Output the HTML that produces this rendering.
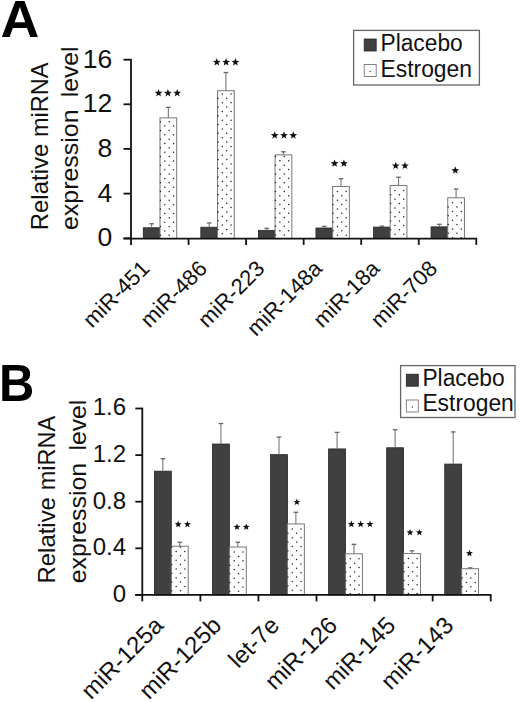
<!DOCTYPE html>
<html><head><meta charset="utf-8"><style>
html,body{margin:0;padding:0;background:#fff;overflow:hidden;}
svg{display:block;}
text{font-family:"Liberation Sans", sans-serif;}
</style></head><body>
<svg width="520" height="702" viewBox="0 0 520 702">
<rect width="520" height="702" fill="#fff"/>
<rect x="143.30" y="227.77" width="16.70" height="10.83" fill="#404040" stroke="#222" stroke-width="0.8"/><line x1="151.65" y1="227.77" x2="151.65" y2="223.76" stroke="#777" stroke-width="1.1"/><line x1="149.35" y1="223.76" x2="153.95" y2="223.76" stroke="#666" stroke-width="1.3"/><rect x="160.00" y="117.85" width="16.70" height="120.75" fill="#fff" stroke="#777" stroke-width="1"/><circle cx="160.43" cy="121.65" r="0.75" fill="#222"/><circle cx="169.17" cy="121.65" r="0.75" fill="#222"/><circle cx="164.80" cy="126.02" r="0.75" fill="#222"/><circle cx="173.54" cy="126.02" r="0.75" fill="#222"/><circle cx="160.43" cy="130.39" r="0.75" fill="#222"/><circle cx="169.17" cy="130.39" r="0.75" fill="#222"/><circle cx="164.80" cy="134.76" r="0.75" fill="#222"/><circle cx="173.54" cy="134.76" r="0.75" fill="#222"/><circle cx="160.43" cy="139.13" r="0.75" fill="#222"/><circle cx="169.17" cy="139.13" r="0.75" fill="#222"/><circle cx="164.80" cy="143.50" r="0.75" fill="#222"/><circle cx="173.54" cy="143.50" r="0.75" fill="#222"/><circle cx="160.43" cy="147.87" r="0.75" fill="#222"/><circle cx="169.17" cy="147.87" r="0.75" fill="#222"/><circle cx="164.80" cy="152.24" r="0.75" fill="#222"/><circle cx="173.54" cy="152.24" r="0.75" fill="#222"/><circle cx="160.43" cy="156.61" r="0.75" fill="#222"/><circle cx="169.17" cy="156.61" r="0.75" fill="#222"/><circle cx="164.80" cy="160.98" r="0.75" fill="#222"/><circle cx="173.54" cy="160.98" r="0.75" fill="#222"/><circle cx="160.43" cy="165.35" r="0.75" fill="#222"/><circle cx="169.17" cy="165.35" r="0.75" fill="#222"/><circle cx="164.80" cy="169.72" r="0.75" fill="#222"/><circle cx="173.54" cy="169.72" r="0.75" fill="#222"/><circle cx="160.43" cy="174.09" r="0.75" fill="#222"/><circle cx="169.17" cy="174.09" r="0.75" fill="#222"/><circle cx="164.80" cy="178.46" r="0.75" fill="#222"/><circle cx="173.54" cy="178.46" r="0.75" fill="#222"/><circle cx="160.43" cy="182.83" r="0.75" fill="#222"/><circle cx="169.17" cy="182.83" r="0.75" fill="#222"/><circle cx="164.80" cy="187.20" r="0.75" fill="#222"/><circle cx="173.54" cy="187.20" r="0.75" fill="#222"/><circle cx="160.43" cy="191.57" r="0.75" fill="#222"/><circle cx="169.17" cy="191.57" r="0.75" fill="#222"/><circle cx="164.80" cy="195.94" r="0.75" fill="#222"/><circle cx="173.54" cy="195.94" r="0.75" fill="#222"/><circle cx="160.43" cy="200.31" r="0.75" fill="#222"/><circle cx="169.17" cy="200.31" r="0.75" fill="#222"/><circle cx="164.80" cy="204.68" r="0.75" fill="#222"/><circle cx="173.54" cy="204.68" r="0.75" fill="#222"/><circle cx="160.43" cy="209.05" r="0.75" fill="#222"/><circle cx="169.17" cy="209.05" r="0.75" fill="#222"/><circle cx="164.80" cy="213.42" r="0.75" fill="#222"/><circle cx="173.54" cy="213.42" r="0.75" fill="#222"/><circle cx="160.43" cy="217.79" r="0.75" fill="#222"/><circle cx="169.17" cy="217.79" r="0.75" fill="#222"/><circle cx="164.80" cy="222.16" r="0.75" fill="#222"/><circle cx="173.54" cy="222.16" r="0.75" fill="#222"/><circle cx="160.43" cy="226.53" r="0.75" fill="#222"/><circle cx="169.17" cy="226.53" r="0.75" fill="#222"/><circle cx="164.80" cy="230.90" r="0.75" fill="#222"/><circle cx="173.54" cy="230.90" r="0.75" fill="#222"/><circle cx="160.43" cy="235.27" r="0.75" fill="#222"/><circle cx="169.17" cy="235.27" r="0.75" fill="#222"/><line x1="168.35" y1="117.85" x2="168.35" y2="107.36" stroke="#777" stroke-width="1.1"/><line x1="166.05" y1="107.36" x2="170.65" y2="107.36" stroke="#666" stroke-width="1.3"/><rect x="200.85" y="227.22" width="16.70" height="11.38" fill="#404040" stroke="#222" stroke-width="0.8"/><line x1="209.20" y1="227.22" x2="209.20" y2="222.98" stroke="#777" stroke-width="1.1"/><line x1="206.90" y1="222.98" x2="211.50" y2="222.98" stroke="#666" stroke-width="1.3"/><rect x="217.55" y="90.73" width="16.70" height="147.87" fill="#fff" stroke="#777" stroke-width="1"/><circle cx="222.35" cy="93.98" r="0.75" fill="#222"/><circle cx="231.09" cy="93.98" r="0.75" fill="#222"/><circle cx="217.98" cy="98.35" r="0.75" fill="#222"/><circle cx="226.72" cy="98.35" r="0.75" fill="#222"/><circle cx="222.35" cy="102.72" r="0.75" fill="#222"/><circle cx="231.09" cy="102.72" r="0.75" fill="#222"/><circle cx="217.98" cy="107.09" r="0.75" fill="#222"/><circle cx="226.72" cy="107.09" r="0.75" fill="#222"/><circle cx="222.35" cy="111.46" r="0.75" fill="#222"/><circle cx="231.09" cy="111.46" r="0.75" fill="#222"/><circle cx="217.98" cy="115.83" r="0.75" fill="#222"/><circle cx="226.72" cy="115.83" r="0.75" fill="#222"/><circle cx="222.35" cy="120.20" r="0.75" fill="#222"/><circle cx="231.09" cy="120.20" r="0.75" fill="#222"/><circle cx="217.98" cy="124.57" r="0.75" fill="#222"/><circle cx="226.72" cy="124.57" r="0.75" fill="#222"/><circle cx="222.35" cy="128.94" r="0.75" fill="#222"/><circle cx="231.09" cy="128.94" r="0.75" fill="#222"/><circle cx="217.98" cy="133.31" r="0.75" fill="#222"/><circle cx="226.72" cy="133.31" r="0.75" fill="#222"/><circle cx="222.35" cy="137.68" r="0.75" fill="#222"/><circle cx="231.09" cy="137.68" r="0.75" fill="#222"/><circle cx="217.98" cy="142.05" r="0.75" fill="#222"/><circle cx="226.72" cy="142.05" r="0.75" fill="#222"/><circle cx="222.35" cy="146.42" r="0.75" fill="#222"/><circle cx="231.09" cy="146.42" r="0.75" fill="#222"/><circle cx="217.98" cy="150.79" r="0.75" fill="#222"/><circle cx="226.72" cy="150.79" r="0.75" fill="#222"/><circle cx="222.35" cy="155.16" r="0.75" fill="#222"/><circle cx="231.09" cy="155.16" r="0.75" fill="#222"/><circle cx="217.98" cy="159.53" r="0.75" fill="#222"/><circle cx="226.72" cy="159.53" r="0.75" fill="#222"/><circle cx="222.35" cy="163.90" r="0.75" fill="#222"/><circle cx="231.09" cy="163.90" r="0.75" fill="#222"/><circle cx="217.98" cy="168.27" r="0.75" fill="#222"/><circle cx="226.72" cy="168.27" r="0.75" fill="#222"/><circle cx="222.35" cy="172.64" r="0.75" fill="#222"/><circle cx="231.09" cy="172.64" r="0.75" fill="#222"/><circle cx="217.98" cy="177.01" r="0.75" fill="#222"/><circle cx="226.72" cy="177.01" r="0.75" fill="#222"/><circle cx="222.35" cy="181.38" r="0.75" fill="#222"/><circle cx="231.09" cy="181.38" r="0.75" fill="#222"/><circle cx="217.98" cy="185.75" r="0.75" fill="#222"/><circle cx="226.72" cy="185.75" r="0.75" fill="#222"/><circle cx="222.35" cy="190.12" r="0.75" fill="#222"/><circle cx="231.09" cy="190.12" r="0.75" fill="#222"/><circle cx="217.98" cy="194.49" r="0.75" fill="#222"/><circle cx="226.72" cy="194.49" r="0.75" fill="#222"/><circle cx="222.35" cy="198.86" r="0.75" fill="#222"/><circle cx="231.09" cy="198.86" r="0.75" fill="#222"/><circle cx="217.98" cy="203.23" r="0.75" fill="#222"/><circle cx="226.72" cy="203.23" r="0.75" fill="#222"/><circle cx="222.35" cy="207.60" r="0.75" fill="#222"/><circle cx="231.09" cy="207.60" r="0.75" fill="#222"/><circle cx="217.98" cy="211.97" r="0.75" fill="#222"/><circle cx="226.72" cy="211.97" r="0.75" fill="#222"/><circle cx="222.35" cy="216.34" r="0.75" fill="#222"/><circle cx="231.09" cy="216.34" r="0.75" fill="#222"/><circle cx="217.98" cy="220.71" r="0.75" fill="#222"/><circle cx="226.72" cy="220.71" r="0.75" fill="#222"/><circle cx="222.35" cy="225.08" r="0.75" fill="#222"/><circle cx="231.09" cy="225.08" r="0.75" fill="#222"/><circle cx="217.98" cy="229.45" r="0.75" fill="#222"/><circle cx="226.72" cy="229.45" r="0.75" fill="#222"/><circle cx="222.35" cy="233.82" r="0.75" fill="#222"/><circle cx="231.09" cy="233.82" r="0.75" fill="#222"/><line x1="225.90" y1="90.73" x2="225.90" y2="72.54" stroke="#777" stroke-width="1.1"/><line x1="223.60" y1="72.54" x2="228.20" y2="72.54" stroke="#666" stroke-width="1.3"/><rect x="258.40" y="230.34" width="16.70" height="8.26" fill="#404040" stroke="#222" stroke-width="0.8"/><line x1="266.75" y1="230.34" x2="266.75" y2="228.33" stroke="#777" stroke-width="1.1"/><line x1="264.45" y1="228.33" x2="269.05" y2="228.33" stroke="#666" stroke-width="1.3"/><rect x="275.10" y="154.90" width="16.70" height="83.70" fill="#fff" stroke="#777" stroke-width="1"/><circle cx="275.53" cy="156.43" r="0.75" fill="#222"/><circle cx="284.27" cy="156.43" r="0.75" fill="#222"/><circle cx="279.90" cy="160.80" r="0.75" fill="#222"/><circle cx="288.64" cy="160.80" r="0.75" fill="#222"/><circle cx="275.53" cy="165.17" r="0.75" fill="#222"/><circle cx="284.27" cy="165.17" r="0.75" fill="#222"/><circle cx="279.90" cy="169.54" r="0.75" fill="#222"/><circle cx="288.64" cy="169.54" r="0.75" fill="#222"/><circle cx="275.53" cy="173.91" r="0.75" fill="#222"/><circle cx="284.27" cy="173.91" r="0.75" fill="#222"/><circle cx="279.90" cy="178.28" r="0.75" fill="#222"/><circle cx="288.64" cy="178.28" r="0.75" fill="#222"/><circle cx="275.53" cy="182.65" r="0.75" fill="#222"/><circle cx="284.27" cy="182.65" r="0.75" fill="#222"/><circle cx="279.90" cy="187.02" r="0.75" fill="#222"/><circle cx="288.64" cy="187.02" r="0.75" fill="#222"/><circle cx="275.53" cy="191.39" r="0.75" fill="#222"/><circle cx="284.27" cy="191.39" r="0.75" fill="#222"/><circle cx="279.90" cy="195.76" r="0.75" fill="#222"/><circle cx="288.64" cy="195.76" r="0.75" fill="#222"/><circle cx="275.53" cy="200.13" r="0.75" fill="#222"/><circle cx="284.27" cy="200.13" r="0.75" fill="#222"/><circle cx="279.90" cy="204.50" r="0.75" fill="#222"/><circle cx="288.64" cy="204.50" r="0.75" fill="#222"/><circle cx="275.53" cy="208.87" r="0.75" fill="#222"/><circle cx="284.27" cy="208.87" r="0.75" fill="#222"/><circle cx="279.90" cy="213.24" r="0.75" fill="#222"/><circle cx="288.64" cy="213.24" r="0.75" fill="#222"/><circle cx="275.53" cy="217.61" r="0.75" fill="#222"/><circle cx="284.27" cy="217.61" r="0.75" fill="#222"/><circle cx="279.90" cy="221.98" r="0.75" fill="#222"/><circle cx="288.64" cy="221.98" r="0.75" fill="#222"/><circle cx="275.53" cy="226.35" r="0.75" fill="#222"/><circle cx="284.27" cy="226.35" r="0.75" fill="#222"/><circle cx="279.90" cy="230.72" r="0.75" fill="#222"/><circle cx="288.64" cy="230.72" r="0.75" fill="#222"/><circle cx="275.53" cy="235.09" r="0.75" fill="#222"/><circle cx="284.27" cy="235.09" r="0.75" fill="#222"/><line x1="283.45" y1="154.90" x2="283.45" y2="151.78" stroke="#777" stroke-width="1.1"/><line x1="281.15" y1="151.78" x2="285.75" y2="151.78" stroke="#666" stroke-width="1.3"/><rect x="315.95" y="228.00" width="16.70" height="10.60" fill="#404040" stroke="#222" stroke-width="0.8"/><line x1="324.30" y1="228.00" x2="324.30" y2="226.32" stroke="#777" stroke-width="1.1"/><line x1="322.00" y1="226.32" x2="326.60" y2="226.32" stroke="#666" stroke-width="1.3"/><rect x="332.65" y="186.48" width="16.70" height="52.12" fill="#fff" stroke="#777" stroke-width="1"/><circle cx="337.45" cy="191.48" r="0.75" fill="#222"/><circle cx="346.19" cy="191.48" r="0.75" fill="#222"/><circle cx="333.08" cy="195.85" r="0.75" fill="#222"/><circle cx="341.82" cy="195.85" r="0.75" fill="#222"/><circle cx="337.45" cy="200.22" r="0.75" fill="#222"/><circle cx="346.19" cy="200.22" r="0.75" fill="#222"/><circle cx="333.08" cy="204.59" r="0.75" fill="#222"/><circle cx="341.82" cy="204.59" r="0.75" fill="#222"/><circle cx="337.45" cy="208.96" r="0.75" fill="#222"/><circle cx="346.19" cy="208.96" r="0.75" fill="#222"/><circle cx="333.08" cy="213.33" r="0.75" fill="#222"/><circle cx="341.82" cy="213.33" r="0.75" fill="#222"/><circle cx="337.45" cy="217.70" r="0.75" fill="#222"/><circle cx="346.19" cy="217.70" r="0.75" fill="#222"/><circle cx="333.08" cy="222.07" r="0.75" fill="#222"/><circle cx="341.82" cy="222.07" r="0.75" fill="#222"/><circle cx="337.45" cy="226.44" r="0.75" fill="#222"/><circle cx="346.19" cy="226.44" r="0.75" fill="#222"/><circle cx="333.08" cy="230.81" r="0.75" fill="#222"/><circle cx="341.82" cy="230.81" r="0.75" fill="#222"/><circle cx="337.45" cy="235.18" r="0.75" fill="#222"/><circle cx="346.19" cy="235.18" r="0.75" fill="#222"/><line x1="341.00" y1="186.48" x2="341.00" y2="178.78" stroke="#777" stroke-width="1.1"/><line x1="338.70" y1="178.78" x2="343.30" y2="178.78" stroke="#666" stroke-width="1.3"/><rect x="373.50" y="227.11" width="16.70" height="11.49" fill="#404040" stroke="#222" stroke-width="0.8"/><line x1="381.85" y1="227.11" x2="381.85" y2="226.10" stroke="#777" stroke-width="1.1"/><line x1="379.55" y1="226.10" x2="384.15" y2="226.10" stroke="#666" stroke-width="1.3"/><rect x="390.20" y="185.48" width="16.70" height="53.12" fill="#fff" stroke="#777" stroke-width="1"/><circle cx="395.00" cy="190.48" r="0.75" fill="#222"/><circle cx="403.74" cy="190.48" r="0.75" fill="#222"/><circle cx="390.63" cy="194.85" r="0.75" fill="#222"/><circle cx="399.37" cy="194.85" r="0.75" fill="#222"/><circle cx="395.00" cy="199.22" r="0.75" fill="#222"/><circle cx="403.74" cy="199.22" r="0.75" fill="#222"/><circle cx="390.63" cy="203.59" r="0.75" fill="#222"/><circle cx="399.37" cy="203.59" r="0.75" fill="#222"/><circle cx="395.00" cy="207.96" r="0.75" fill="#222"/><circle cx="403.74" cy="207.96" r="0.75" fill="#222"/><circle cx="390.63" cy="212.33" r="0.75" fill="#222"/><circle cx="399.37" cy="212.33" r="0.75" fill="#222"/><circle cx="395.00" cy="216.70" r="0.75" fill="#222"/><circle cx="403.74" cy="216.70" r="0.75" fill="#222"/><circle cx="390.63" cy="221.07" r="0.75" fill="#222"/><circle cx="399.37" cy="221.07" r="0.75" fill="#222"/><circle cx="395.00" cy="225.44" r="0.75" fill="#222"/><circle cx="403.74" cy="225.44" r="0.75" fill="#222"/><circle cx="390.63" cy="229.81" r="0.75" fill="#222"/><circle cx="399.37" cy="229.81" r="0.75" fill="#222"/><circle cx="395.00" cy="234.18" r="0.75" fill="#222"/><circle cx="403.74" cy="234.18" r="0.75" fill="#222"/><line x1="398.55" y1="185.48" x2="398.55" y2="177.22" stroke="#777" stroke-width="1.1"/><line x1="396.25" y1="177.22" x2="400.85" y2="177.22" stroke="#666" stroke-width="1.3"/><rect x="431.05" y="226.88" width="16.70" height="11.72" fill="#404040" stroke="#222" stroke-width="0.8"/><line x1="439.40" y1="226.88" x2="439.40" y2="224.32" stroke="#777" stroke-width="1.1"/><line x1="437.10" y1="224.32" x2="441.70" y2="224.32" stroke="#666" stroke-width="1.3"/><rect x="447.75" y="197.75" width="16.70" height="40.85" fill="#fff" stroke="#777" stroke-width="1"/><circle cx="452.55" cy="202.75" r="0.75" fill="#222"/><circle cx="461.29" cy="202.75" r="0.75" fill="#222"/><circle cx="448.18" cy="207.12" r="0.75" fill="#222"/><circle cx="456.92" cy="207.12" r="0.75" fill="#222"/><circle cx="452.55" cy="211.49" r="0.75" fill="#222"/><circle cx="461.29" cy="211.49" r="0.75" fill="#222"/><circle cx="448.18" cy="215.86" r="0.75" fill="#222"/><circle cx="456.92" cy="215.86" r="0.75" fill="#222"/><circle cx="452.55" cy="220.23" r="0.75" fill="#222"/><circle cx="461.29" cy="220.23" r="0.75" fill="#222"/><circle cx="448.18" cy="224.60" r="0.75" fill="#222"/><circle cx="456.92" cy="224.60" r="0.75" fill="#222"/><circle cx="452.55" cy="228.97" r="0.75" fill="#222"/><circle cx="461.29" cy="228.97" r="0.75" fill="#222"/><circle cx="448.18" cy="233.34" r="0.75" fill="#222"/><circle cx="456.92" cy="233.34" r="0.75" fill="#222"/><circle cx="452.55" cy="237.71" r="0.75" fill="#222"/><circle cx="461.29" cy="237.71" r="0.75" fill="#222"/><line x1="456.10" y1="197.75" x2="456.10" y2="189.05" stroke="#777" stroke-width="1.1"/><line x1="453.80" y1="189.05" x2="458.40" y2="189.05" stroke="#666" stroke-width="1.3"/><line x1="131.00" y1="58.90" x2="131.00" y2="244.90" stroke="#111" stroke-width="1.8"/><line x1="123.50" y1="238.30" x2="131.00" y2="238.30" stroke="#111" stroke-width="1.8"/><text x="112.30" y="246.20" font-size="26.5" text-anchor="end" fill="#111">0</text><line x1="123.50" y1="193.60" x2="131.00" y2="193.60" stroke="#111" stroke-width="1.8"/><text x="112.30" y="201.50" font-size="26.5" text-anchor="end" fill="#111">4</text><line x1="123.50" y1="148.90" x2="131.00" y2="148.90" stroke="#111" stroke-width="1.8"/><text x="112.30" y="156.80" font-size="26.5" text-anchor="end" fill="#111">8</text><line x1="123.50" y1="104.30" x2="131.00" y2="104.30" stroke="#111" stroke-width="1.8"/><text x="112.30" y="112.20" font-size="26.5" text-anchor="end" fill="#111">12</text><line x1="123.50" y1="59.70" x2="131.00" y2="59.70" stroke="#111" stroke-width="1.8"/><text x="112.30" y="67.60" font-size="26.5" text-anchor="end" fill="#111">16</text><line x1="123.50" y1="238.60" x2="477.10" y2="238.60" stroke="#111" stroke-width="1.8"/><line x1="188.55" y1="238.60" x2="188.55" y2="244.90" stroke="#111" stroke-width="1.8"/><line x1="246.10" y1="238.60" x2="246.10" y2="244.90" stroke="#111" stroke-width="1.8"/><line x1="303.65" y1="238.60" x2="303.65" y2="244.90" stroke="#111" stroke-width="1.8"/><line x1="361.20" y1="238.60" x2="361.20" y2="244.90" stroke="#111" stroke-width="1.8"/><line x1="418.75" y1="238.60" x2="418.75" y2="244.90" stroke="#111" stroke-width="1.8"/><line x1="476.30" y1="238.60" x2="476.30" y2="244.90" stroke="#111" stroke-width="1.8"/><polygon points="158.60,89.00 159.61,91.71 162.50,91.83 160.24,93.63 161.01,96.42 158.60,94.82 156.19,96.42 156.96,93.63 154.70,91.83 157.59,91.71" fill="#111"/><polygon points="167.90,89.00 168.91,91.71 171.80,91.83 169.54,93.63 170.31,96.42 167.90,94.82 165.49,96.42 166.26,93.63 164.00,91.83 166.89,91.71" fill="#111"/><polygon points="177.20,89.00 178.21,91.71 181.10,91.83 178.84,93.63 179.61,96.42 177.20,94.82 174.79,96.42 175.56,93.63 173.30,91.83 176.19,91.71" fill="#111"/><polygon points="216.80,58.10 217.81,60.81 220.70,60.93 218.44,62.73 219.21,65.52 216.80,63.92 214.39,65.52 215.16,62.73 212.90,60.93 215.79,60.81" fill="#111"/><polygon points="226.10,58.10 227.11,60.81 230.00,60.93 227.74,62.73 228.51,65.52 226.10,63.92 223.69,65.52 224.46,62.73 222.20,60.93 225.09,60.81" fill="#111"/><polygon points="235.40,58.10 236.41,60.81 239.30,60.93 237.04,62.73 237.81,65.52 235.40,63.92 232.99,65.52 233.76,62.73 231.50,60.93 234.39,60.81" fill="#111"/><polygon points="274.70,131.30 275.71,134.01 278.60,134.13 276.34,135.93 277.11,138.72 274.70,137.12 272.29,138.72 273.06,135.93 270.80,134.13 273.69,134.01" fill="#111"/><polygon points="284.00,131.30 285.01,134.01 287.90,134.13 285.64,135.93 286.41,138.72 284.00,137.12 281.59,138.72 282.36,135.93 280.10,134.13 282.99,134.01" fill="#111"/><polygon points="293.30,131.30 294.31,134.01 297.20,134.13 294.94,135.93 295.71,138.72 293.30,137.12 290.89,138.72 291.66,135.93 289.40,134.13 292.29,134.01" fill="#111"/><polygon points="334.60,159.40 335.61,162.11 338.50,162.23 336.24,164.03 337.01,166.82 334.60,165.22 332.19,166.82 332.96,164.03 330.70,162.23 333.59,162.11" fill="#111"/><polygon points="343.90,159.40 344.91,162.11 347.80,162.23 345.54,164.03 346.31,166.82 343.90,165.22 341.49,166.82 342.26,164.03 340.00,162.23 342.89,162.11" fill="#111"/><polygon points="395.70,161.70 396.71,164.41 399.60,164.53 397.34,166.33 398.11,169.12 395.70,167.52 393.29,169.12 394.06,166.33 391.80,164.53 394.69,164.41" fill="#111"/><polygon points="405.00,161.70 406.01,164.41 408.90,164.53 406.64,166.33 407.41,169.12 405.00,167.52 402.59,169.12 403.36,166.33 401.10,164.53 403.99,164.41" fill="#111"/><polygon points="455.30,166.30 456.31,169.01 459.20,169.13 456.94,170.93 457.71,173.72 455.30,172.12 452.89,173.72 453.66,170.93 451.40,169.13 454.29,169.01" fill="#111"/><text transform="translate(150.80,269.90) rotate(-45)" font-size="22" text-anchor="end" fill="#111">miR-451</text><text transform="translate(208.35,269.90) rotate(-45)" font-size="22" text-anchor="end" fill="#111">miR-486</text><text transform="translate(265.90,269.90) rotate(-45)" font-size="22" text-anchor="end" fill="#111">miR-223</text><text transform="translate(323.45,269.90) rotate(-45)" font-size="22" text-anchor="end" fill="#111">miR-148a</text><text transform="translate(381.00,269.90) rotate(-45)" font-size="22" text-anchor="end" fill="#111">miR-18a</text><text transform="translate(438.55,269.90) rotate(-45)" font-size="22" text-anchor="end" fill="#111">miR-708</text><text transform="translate(48.10,230.20) rotate(-90)" font-size="24.5" fill="#111" textLength="86.4" lengthAdjust="spacingAndGlyphs">Relative</text><text transform="translate(48.10,137.00) rotate(-90)" font-size="24.5" fill="#111" textLength="74.5" lengthAdjust="spacingAndGlyphs">miRNA</text><text transform="translate(78.30,230.00) rotate(-90)" font-size="24.5" fill="#111" textLength="120.5" lengthAdjust="spacingAndGlyphs">expression</text><text transform="translate(78.30,97.30) rotate(-90)" font-size="24.5" fill="#111" textLength="50.9" lengthAdjust="spacingAndGlyphs">level</text><rect x="353.60" y="30.40" width="125.80" height="54.60" fill="#fff" stroke="#666" stroke-width="1.3"/><rect x="364.20" y="39.00" width="12.00" height="12.00" fill="#404040" stroke="#222" stroke-width="0.8"/><text x="380.50" y="51.40" font-size="23" fill="#111" textLength="82.2" lengthAdjust="spacingAndGlyphs">Placebo</text><rect x="364.20" y="64.50" width="12.00" height="12.00" fill="#fff" stroke="#777" stroke-width="0.9"/><circle cx="370.20" cy="71.50" r="0.7" fill="#333"/><text x="380.50" y="77.20" font-size="23" fill="#111" textLength="91.5" lengthAdjust="spacingAndGlyphs">Estrogen</text><text transform="translate(0.60,37.20) scale(1.035,1)" font-size="52" font-weight="bold" fill="#000">A</text><rect x="154.40" y="471.18" width="16.90" height="123.72" fill="#404040" stroke="#222" stroke-width="0.8"/><line x1="162.85" y1="471.18" x2="162.85" y2="458.71" stroke="#777" stroke-width="1.1"/><line x1="160.55" y1="458.71" x2="165.15" y2="458.71" stroke="#666" stroke-width="1.3"/><rect x="171.30" y="546.20" width="16.90" height="48.70" fill="#fff" stroke="#777" stroke-width="1"/><circle cx="171.73" cy="547.13" r="0.75" fill="#222"/><circle cx="180.47" cy="547.13" r="0.75" fill="#222"/><circle cx="176.10" cy="551.50" r="0.75" fill="#222"/><circle cx="184.84" cy="551.50" r="0.75" fill="#222"/><circle cx="171.73" cy="555.87" r="0.75" fill="#222"/><circle cx="180.47" cy="555.87" r="0.75" fill="#222"/><circle cx="176.10" cy="560.24" r="0.75" fill="#222"/><circle cx="184.84" cy="560.24" r="0.75" fill="#222"/><circle cx="171.73" cy="564.61" r="0.75" fill="#222"/><circle cx="180.47" cy="564.61" r="0.75" fill="#222"/><circle cx="176.10" cy="568.98" r="0.75" fill="#222"/><circle cx="184.84" cy="568.98" r="0.75" fill="#222"/><circle cx="171.73" cy="573.35" r="0.75" fill="#222"/><circle cx="180.47" cy="573.35" r="0.75" fill="#222"/><circle cx="176.10" cy="577.72" r="0.75" fill="#222"/><circle cx="184.84" cy="577.72" r="0.75" fill="#222"/><circle cx="171.73" cy="582.09" r="0.75" fill="#222"/><circle cx="180.47" cy="582.09" r="0.75" fill="#222"/><circle cx="176.10" cy="586.46" r="0.75" fill="#222"/><circle cx="184.84" cy="586.46" r="0.75" fill="#222"/><circle cx="171.73" cy="590.83" r="0.75" fill="#222"/><circle cx="180.47" cy="590.83" r="0.75" fill="#222"/><line x1="179.75" y1="546.20" x2="179.75" y2="542.24" stroke="#777" stroke-width="1.1"/><line x1="177.45" y1="542.24" x2="182.05" y2="542.24" stroke="#666" stroke-width="1.3"/><rect x="212.47" y="444.03" width="16.90" height="150.87" fill="#404040" stroke="#222" stroke-width="0.8"/><line x1="220.92" y1="444.03" x2="220.92" y2="423.53" stroke="#777" stroke-width="1.1"/><line x1="218.62" y1="423.53" x2="223.22" y2="423.53" stroke="#666" stroke-width="1.3"/><rect x="229.37" y="547.02" width="16.90" height="47.88" fill="#fff" stroke="#777" stroke-width="1"/><circle cx="234.17" cy="552.02" r="0.75" fill="#222"/><circle cx="242.91" cy="552.02" r="0.75" fill="#222"/><circle cx="229.80" cy="556.39" r="0.75" fill="#222"/><circle cx="238.54" cy="556.39" r="0.75" fill="#222"/><circle cx="234.17" cy="560.76" r="0.75" fill="#222"/><circle cx="242.91" cy="560.76" r="0.75" fill="#222"/><circle cx="229.80" cy="565.13" r="0.75" fill="#222"/><circle cx="238.54" cy="565.13" r="0.75" fill="#222"/><circle cx="234.17" cy="569.50" r="0.75" fill="#222"/><circle cx="242.91" cy="569.50" r="0.75" fill="#222"/><circle cx="229.80" cy="573.87" r="0.75" fill="#222"/><circle cx="238.54" cy="573.87" r="0.75" fill="#222"/><circle cx="234.17" cy="578.24" r="0.75" fill="#222"/><circle cx="242.91" cy="578.24" r="0.75" fill="#222"/><circle cx="229.80" cy="582.61" r="0.75" fill="#222"/><circle cx="238.54" cy="582.61" r="0.75" fill="#222"/><circle cx="234.17" cy="586.98" r="0.75" fill="#222"/><circle cx="242.91" cy="586.98" r="0.75" fill="#222"/><circle cx="229.80" cy="591.35" r="0.75" fill="#222"/><circle cx="238.54" cy="591.35" r="0.75" fill="#222"/><line x1="237.82" y1="547.02" x2="237.82" y2="542.24" stroke="#777" stroke-width="1.1"/><line x1="235.52" y1="542.24" x2="240.12" y2="542.24" stroke="#666" stroke-width="1.3"/><rect x="270.54" y="454.63" width="16.90" height="140.27" fill="#404040" stroke="#222" stroke-width="0.8"/><line x1="278.99" y1="454.63" x2="278.99" y2="437.04" stroke="#777" stroke-width="1.1"/><line x1="276.69" y1="437.04" x2="281.29" y2="437.04" stroke="#666" stroke-width="1.3"/><rect x="287.44" y="523.95" width="16.90" height="70.95" fill="#fff" stroke="#777" stroke-width="1"/><circle cx="292.24" cy="528.95" r="0.75" fill="#222"/><circle cx="300.98" cy="528.95" r="0.75" fill="#222"/><circle cx="287.87" cy="533.32" r="0.75" fill="#222"/><circle cx="296.61" cy="533.32" r="0.75" fill="#222"/><circle cx="292.24" cy="537.69" r="0.75" fill="#222"/><circle cx="300.98" cy="537.69" r="0.75" fill="#222"/><circle cx="287.87" cy="542.06" r="0.75" fill="#222"/><circle cx="296.61" cy="542.06" r="0.75" fill="#222"/><circle cx="292.24" cy="546.43" r="0.75" fill="#222"/><circle cx="300.98" cy="546.43" r="0.75" fill="#222"/><circle cx="287.87" cy="550.80" r="0.75" fill="#222"/><circle cx="296.61" cy="550.80" r="0.75" fill="#222"/><circle cx="292.24" cy="555.17" r="0.75" fill="#222"/><circle cx="300.98" cy="555.17" r="0.75" fill="#222"/><circle cx="287.87" cy="559.54" r="0.75" fill="#222"/><circle cx="296.61" cy="559.54" r="0.75" fill="#222"/><circle cx="292.24" cy="563.91" r="0.75" fill="#222"/><circle cx="300.98" cy="563.91" r="0.75" fill="#222"/><circle cx="287.87" cy="568.28" r="0.75" fill="#222"/><circle cx="296.61" cy="568.28" r="0.75" fill="#222"/><circle cx="292.24" cy="572.65" r="0.75" fill="#222"/><circle cx="300.98" cy="572.65" r="0.75" fill="#222"/><circle cx="287.87" cy="577.02" r="0.75" fill="#222"/><circle cx="296.61" cy="577.02" r="0.75" fill="#222"/><circle cx="292.24" cy="581.39" r="0.75" fill="#222"/><circle cx="300.98" cy="581.39" r="0.75" fill="#222"/><circle cx="287.87" cy="585.76" r="0.75" fill="#222"/><circle cx="296.61" cy="585.76" r="0.75" fill="#222"/><circle cx="292.24" cy="590.13" r="0.75" fill="#222"/><circle cx="300.98" cy="590.13" r="0.75" fill="#222"/><line x1="295.89" y1="523.95" x2="295.89" y2="512.30" stroke="#777" stroke-width="1.1"/><line x1="293.59" y1="512.30" x2="298.19" y2="512.30" stroke="#666" stroke-width="1.3"/><rect x="328.61" y="448.93" width="16.90" height="145.97" fill="#404040" stroke="#222" stroke-width="0.8"/><line x1="337.06" y1="448.93" x2="337.06" y2="432.38" stroke="#777" stroke-width="1.1"/><line x1="334.76" y1="432.38" x2="339.36" y2="432.38" stroke="#666" stroke-width="1.3"/><rect x="345.51" y="553.78" width="16.90" height="41.12" fill="#fff" stroke="#777" stroke-width="1"/><circle cx="350.31" cy="558.78" r="0.75" fill="#222"/><circle cx="359.05" cy="558.78" r="0.75" fill="#222"/><circle cx="345.94" cy="563.15" r="0.75" fill="#222"/><circle cx="354.68" cy="563.15" r="0.75" fill="#222"/><circle cx="350.31" cy="567.52" r="0.75" fill="#222"/><circle cx="359.05" cy="567.52" r="0.75" fill="#222"/><circle cx="345.94" cy="571.89" r="0.75" fill="#222"/><circle cx="354.68" cy="571.89" r="0.75" fill="#222"/><circle cx="350.31" cy="576.26" r="0.75" fill="#222"/><circle cx="359.05" cy="576.26" r="0.75" fill="#222"/><circle cx="345.94" cy="580.63" r="0.75" fill="#222"/><circle cx="354.68" cy="580.63" r="0.75" fill="#222"/><circle cx="350.31" cy="585.00" r="0.75" fill="#222"/><circle cx="359.05" cy="585.00" r="0.75" fill="#222"/><circle cx="345.94" cy="589.37" r="0.75" fill="#222"/><circle cx="354.68" cy="589.37" r="0.75" fill="#222"/><circle cx="350.31" cy="593.74" r="0.75" fill="#222"/><circle cx="359.05" cy="593.74" r="0.75" fill="#222"/><line x1="353.96" y1="553.78" x2="353.96" y2="544.34" stroke="#777" stroke-width="1.1"/><line x1="351.66" y1="544.34" x2="356.26" y2="544.34" stroke="#666" stroke-width="1.3"/><rect x="386.68" y="447.76" width="16.90" height="147.14" fill="#404040" stroke="#222" stroke-width="0.8"/><line x1="395.13" y1="447.76" x2="395.13" y2="429.70" stroke="#777" stroke-width="1.1"/><line x1="392.83" y1="429.70" x2="397.43" y2="429.70" stroke="#666" stroke-width="1.3"/><rect x="403.58" y="553.54" width="16.90" height="41.36" fill="#fff" stroke="#777" stroke-width="1"/><circle cx="408.38" cy="558.54" r="0.75" fill="#222"/><circle cx="417.12" cy="558.54" r="0.75" fill="#222"/><circle cx="404.01" cy="562.91" r="0.75" fill="#222"/><circle cx="412.75" cy="562.91" r="0.75" fill="#222"/><circle cx="408.38" cy="567.28" r="0.75" fill="#222"/><circle cx="417.12" cy="567.28" r="0.75" fill="#222"/><circle cx="404.01" cy="571.65" r="0.75" fill="#222"/><circle cx="412.75" cy="571.65" r="0.75" fill="#222"/><circle cx="408.38" cy="576.02" r="0.75" fill="#222"/><circle cx="417.12" cy="576.02" r="0.75" fill="#222"/><circle cx="404.01" cy="580.39" r="0.75" fill="#222"/><circle cx="412.75" cy="580.39" r="0.75" fill="#222"/><circle cx="408.38" cy="584.76" r="0.75" fill="#222"/><circle cx="417.12" cy="584.76" r="0.75" fill="#222"/><circle cx="404.01" cy="589.13" r="0.75" fill="#222"/><circle cx="412.75" cy="589.13" r="0.75" fill="#222"/><circle cx="408.38" cy="593.50" r="0.75" fill="#222"/><circle cx="417.12" cy="593.50" r="0.75" fill="#222"/><line x1="412.03" y1="553.54" x2="412.03" y2="550.86" stroke="#777" stroke-width="1.1"/><line x1="409.73" y1="550.86" x2="414.33" y2="550.86" stroke="#666" stroke-width="1.3"/><rect x="444.75" y="464.07" width="16.90" height="130.83" fill="#404040" stroke="#222" stroke-width="0.8"/><line x1="453.20" y1="464.07" x2="453.20" y2="431.92" stroke="#777" stroke-width="1.1"/><line x1="450.90" y1="431.92" x2="455.50" y2="431.92" stroke="#666" stroke-width="1.3"/><rect x="461.65" y="568.69" width="16.90" height="26.21" fill="#fff" stroke="#777" stroke-width="1"/><circle cx="466.45" cy="573.69" r="0.75" fill="#222"/><circle cx="475.19" cy="573.69" r="0.75" fill="#222"/><circle cx="462.08" cy="578.06" r="0.75" fill="#222"/><circle cx="470.82" cy="578.06" r="0.75" fill="#222"/><circle cx="466.45" cy="582.43" r="0.75" fill="#222"/><circle cx="475.19" cy="582.43" r="0.75" fill="#222"/><circle cx="462.08" cy="586.80" r="0.75" fill="#222"/><circle cx="470.82" cy="586.80" r="0.75" fill="#222"/><circle cx="466.45" cy="591.17" r="0.75" fill="#222"/><circle cx="475.19" cy="591.17" r="0.75" fill="#222"/><line x1="470.10" y1="568.69" x2="470.10" y2="567.87" stroke="#777" stroke-width="1.1"/><line x1="467.80" y1="567.87" x2="472.40" y2="567.87" stroke="#666" stroke-width="1.3"/><line x1="142.30" y1="407.70" x2="142.30" y2="601.40" stroke="#111" stroke-width="1.8"/><line x1="135.30" y1="594.90" x2="142.30" y2="594.90" stroke="#111" stroke-width="1.8"/><text x="126.00" y="601.70" font-size="24" text-anchor="end" fill="#111">0</text><line x1="135.30" y1="548.30" x2="142.30" y2="548.30" stroke="#111" stroke-width="1.8"/><text x="126.00" y="555.10" font-size="24" text-anchor="end" fill="#111">0.4</text><line x1="135.30" y1="501.70" x2="142.30" y2="501.70" stroke="#111" stroke-width="1.8"/><text x="126.00" y="508.50" font-size="24" text-anchor="end" fill="#111">0.8</text><line x1="135.30" y1="455.10" x2="142.30" y2="455.10" stroke="#111" stroke-width="1.8"/><text x="126.00" y="461.90" font-size="24" text-anchor="end" fill="#111">1.2</text><line x1="135.30" y1="408.50" x2="142.30" y2="408.50" stroke="#111" stroke-width="1.8"/><text x="126.00" y="415.30" font-size="24" text-anchor="end" fill="#111">1.6</text><line x1="135.30" y1="594.90" x2="491.52" y2="594.90" stroke="#111" stroke-width="1.8"/><line x1="200.37" y1="594.90" x2="200.37" y2="601.40" stroke="#111" stroke-width="1.8"/><line x1="258.44" y1="594.90" x2="258.44" y2="601.40" stroke="#111" stroke-width="1.8"/><line x1="316.51" y1="594.90" x2="316.51" y2="601.40" stroke="#111" stroke-width="1.8"/><line x1="374.58" y1="594.90" x2="374.58" y2="601.40" stroke="#111" stroke-width="1.8"/><line x1="432.65" y1="594.90" x2="432.65" y2="601.40" stroke="#111" stroke-width="1.8"/><line x1="490.72" y1="594.90" x2="490.72" y2="601.40" stroke="#111" stroke-width="1.8"/><polygon points="178.17,520.70 179.07,523.11 181.64,523.22 179.63,524.82 180.32,527.30 178.17,525.88 176.03,527.30 176.71,524.82 174.70,523.22 177.27,523.11" fill="#111"/><polygon points="187.47,520.70 188.37,523.11 190.94,523.22 188.93,524.82 189.62,527.30 187.47,525.88 185.33,527.30 186.01,524.82 184.00,523.22 186.57,523.11" fill="#111"/><polygon points="236.97,523.40 237.87,525.81 240.44,525.92 238.43,527.52 239.12,530.00 236.97,528.58 234.83,530.00 235.51,527.52 233.50,525.92 236.07,525.81" fill="#111"/><polygon points="246.27,523.40 247.17,525.81 249.74,525.92 247.73,527.52 248.42,530.00 246.27,528.58 244.13,530.00 244.81,527.52 242.80,525.92 245.37,525.81" fill="#111"/><polygon points="296.87,498.50 297.77,500.91 300.34,501.02 298.33,502.62 299.02,505.10 296.87,503.68 294.73,505.10 295.41,502.62 293.40,501.02 295.97,500.91" fill="#111"/><polygon points="351.37,520.60 352.27,523.01 354.84,523.12 352.83,524.72 353.52,527.20 351.37,525.78 349.23,527.20 349.91,524.72 347.90,523.12 350.47,523.01" fill="#111"/><polygon points="360.67,520.60 361.57,523.01 364.14,523.12 362.13,524.72 362.82,527.20 360.67,525.78 358.53,527.20 359.21,524.72 357.20,523.12 359.77,523.01" fill="#111"/><polygon points="369.97,520.60 370.87,523.01 373.44,523.12 371.43,524.72 372.12,527.20 369.97,525.78 367.83,527.20 368.51,524.72 366.50,523.12 369.07,523.01" fill="#111"/><polygon points="410.07,528.90 410.97,531.31 413.54,531.42 411.53,533.02 412.22,535.50 410.07,534.08 407.93,535.50 408.61,533.02 406.60,531.42 409.17,531.31" fill="#111"/><polygon points="419.37,528.90 420.27,531.31 422.84,531.42 420.83,533.02 421.52,535.50 419.37,534.08 417.23,535.50 417.91,533.02 415.90,531.42 418.47,531.31" fill="#111"/><polygon points="469.47,549.70 470.37,552.11 472.94,552.22 470.93,553.82 471.62,556.30 469.47,554.88 467.33,556.30 468.01,553.82 466.00,552.22 468.57,552.11" fill="#111"/><text transform="translate(164.60,626.90) rotate(-45)" font-size="24" text-anchor="end" fill="#111">miR-125a</text><text transform="translate(222.67,626.90) rotate(-45)" font-size="24" text-anchor="end" fill="#111">miR-125b</text><text transform="translate(280.74,626.90) rotate(-45)" font-size="24" text-anchor="end" fill="#111">let-7e</text><text transform="translate(338.81,626.90) rotate(-45)" font-size="24" text-anchor="end" fill="#111">miR-126</text><text transform="translate(396.88,626.90) rotate(-45)" font-size="24" text-anchor="end" fill="#111">miR-145</text><text transform="translate(454.95,626.90) rotate(-45)" font-size="24" text-anchor="end" fill="#111">miR-143</text><text transform="translate(55.30,583.50) rotate(-90)" font-size="24.5" fill="#111" textLength="86.4" lengthAdjust="spacingAndGlyphs">Relative</text><text transform="translate(55.30,490.30) rotate(-90)" font-size="24.5" fill="#111" textLength="74.5" lengthAdjust="spacingAndGlyphs">miRNA</text><text transform="translate(85.50,583.30) rotate(-90)" font-size="24.5" fill="#111" textLength="120.5" lengthAdjust="spacingAndGlyphs">expression</text><text transform="translate(85.50,450.60) rotate(-90)" font-size="24.5" fill="#111" textLength="50.9" lengthAdjust="spacingAndGlyphs">level</text><rect x="400.60" y="365.60" width="114.40" height="51.90" fill="#fff" stroke="#666" stroke-width="1.3"/><rect x="406.30" y="374.20" width="12.00" height="12.00" fill="#404040" stroke="#222" stroke-width="0.8"/><text x="422.40" y="385.70" font-size="23" fill="#111" textLength="82.3" lengthAdjust="spacingAndGlyphs">Placebo</text><rect x="406.30" y="400.00" width="12.00" height="12.00" fill="#fff" stroke="#777" stroke-width="0.9"/><circle cx="412.30" cy="407.00" r="0.7" fill="#333"/><text x="422.40" y="411.20" font-size="23" fill="#111" textLength="91.4" lengthAdjust="spacingAndGlyphs">Estrogen</text><text transform="translate(-1.00,401.00) scale(0.940,1)" font-size="52" font-weight="bold" fill="#000">B</text>
</svg>
</body></html>
